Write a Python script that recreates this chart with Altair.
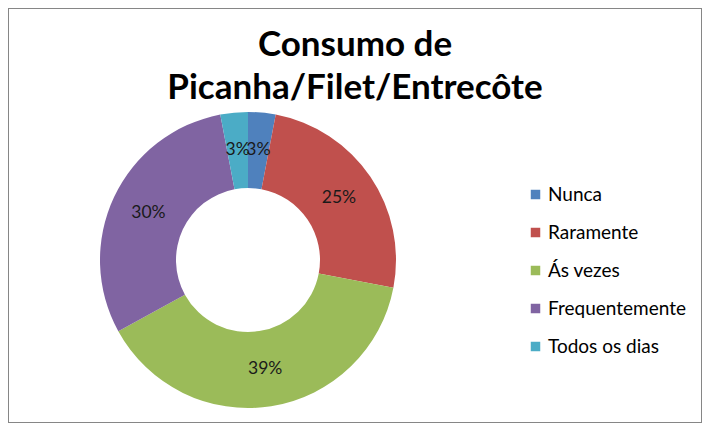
import altair as alt
import pandas as pd

categories = ["Nunca", "Raramente", "Ás vezes", "Frequentemente", "Todos os dias"]
values = [3, 25, 39, 30, 3]
labels = ["3%", "25%", "39%", "30%", "3%"]
colors = ["#4F81BD", "#C0504D", "#9BBB59", "#8064A2", "#4BACC6"]

df = pd.DataFrame({
    "categoria": categories,
    "valor": values,
    "rotulo": labels,
    "ordem": list(range(len(categories))),
})

FONT = "Lato"

base = alt.Chart(df).encode(
    theta=alt.Theta("valor:Q", stack=True),
    order=alt.Order("ordem:Q"),
)

arcs = base.mark_arc(radius=148, radius2=72).encode(
    x=alt.value(240),
    y=alt.value(252),
    color=alt.Color(
        "categoria:N",
        scale=alt.Scale(domain=categories, range=colors),
        sort=categories,
        legend=alt.Legend(
            title=None,
            orient="none",
            legendX=518,
            legendY=177,
            symbolType="square",
            symbolSize=90,
            symbolStrokeWidth=0,
            labelFont=FONT,
            labelFontSize=19,
            labelColor="#000000",
            labelOffset=3,
            rowPadding=18,
        ),
    ),
)

texts = base.mark_text(radius=110, font=FONT, fontSize=17.5, color="#1a1a1a").encode(
    x=alt.value(240),
    y=alt.value(252),
    text="rotulo:N",
)

chart = (
    alt.layer(arcs, texts)
    .properties(
        width=694,
        height=415,
        padding=0,
        autosize="none",
        title=alt.Title(
            ["Consumo de", "Picanha/Filet/Entrecôte"],
            font=FONT,
            fontSize=35,
            fontWeight="bold",
            color="#000000",
            anchor="middle",
            frame="group",
            baseline="alphabetic",
            lineHeight=43,
            offset=-126,
        ),
    )
    .configure_view(stroke="#868686", strokeWidth=2)
)

chart.save("out.html", embed_options={"renderer": "svg", "actions": False})
